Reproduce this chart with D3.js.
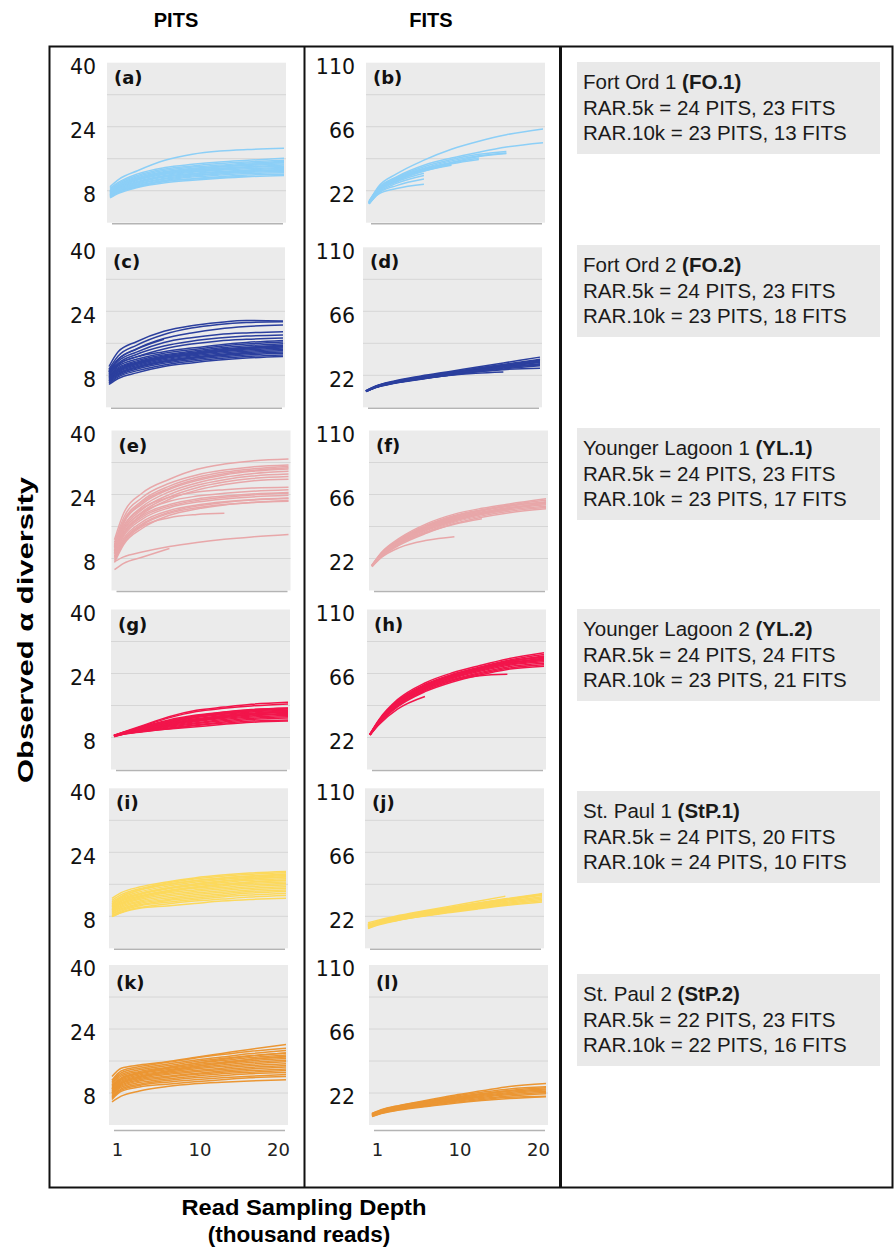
<!DOCTYPE html>
<html>
<head>
<meta charset="utf-8">
<script src="https://cdn.jsdelivr.net/npm/d3@7"></script>
<style>
  body { margin: 0; background: #fff; }
  svg { display: block; }
</style>
</head>
<body>
<div id="chart"></div>
<script>
// sampling depths (thousand reads) shared by every curve; shorter arrays stop early
const depths = [1, 2, 4, 7, 10, 13, 16, 20];
const depthTicks = [1, 10, 20];

const siteNames = ["Fort Ord 1", "Fort Ord 2", "Younger Lagoon 1", "Younger Lagoon 2", "St. Paul 1", "St. Paul 2"];
const siteCodes = ["FO.1", "FO.2", "YL.1", "YL.2", "StP.1", "StP.2"];
const rar5kPits = [24, 24, 24, 24, 24, 22];
const rar5kFits = [23, 23, 23, 24, 20, 23];
const rar10kPits = [23, 23, 23, 23, 24, 22];
const rar10kFits = [13, 18, 17, 21, 10, 16];

const pitsLetters = ["(a)", "(c)", "(e)", "(g)", "(i)", "(k)"];
const fitsLetters = ["(b)", "(d)", "(f)", "(h)", "(j)", "(l)"];
const pitsTicks = [40, 24, 8];
const fitsTicks = [110, 66, 22];
const pitsGrid = [32, 24, 16, 8];
const fitsGrid = [88, 66, 44, 22];

const pitsFO1 = [
  [9.0, 10.9, 13.0, 15.6, 17.1, 17.9, 18.3, 18.6],
  [8.6, 10.2, 12.2, 13.8, 14.6, 15.2, 15.6, 16.1],
  [8.3, 9.9, 11.8, 13.4, 14.2, 14.8, 15.2, 15.6],
  [8.0, 9.6, 11.5, 13.1, 13.9, 14.4, 14.9, 15.3],
  [7.9, 9.4, 11.2, 12.8, 13.6, 14.1, 14.6, 15.0],
  [7.7, 9.2, 11.0, 12.5, 13.3, 13.9, 14.3, 14.7],
  [7.5, 9.0, 10.8, 12.3, 13.1, 13.6, 14.0, 14.4],
  [7.4, 8.8, 10.6, 12.1, 12.8, 13.3, 13.8, 14.1],
  [7.2, 8.6, 10.3, 11.8, 12.6, 13.1, 13.5, 13.8],
  [7.1, 8.5, 10.1, 11.6, 12.3, 12.8, 13.2, 13.6],
  [6.9, 8.3, 9.9, 11.4, 12.1, 12.6, 13.0, 13.3],
  [6.8, 8.1, 9.7, 11.1, 11.9, 12.4, 12.8, 13.1],
  [6.7, 8.0, 9.5, 10.9, 11.7, 12.2, 12.6, 12.8],
  [6.5, 7.8, 9.2, 10.6, 11.4, 11.9, 12.3, 12.5],
  [6.4, 7.6, 9.0, 10.3, 11.0, 11.5, 11.9, 12.1],
  [6.2, 7.4, 8.8, 10.0, 10.6, 11.1, 11.5, 11.8],
  [7.6, 9.1, 10.9, 12.4, 13.0, 13.5, 13.9],
  [6.6, 7.9, 9.2, 10.4, 10.9, 11.3, 11.6],
  [7.0, 8.2, 9.4],
  [7.8, 9.3, 11.1, 12.6, 13.4, 14.0, 14.5, 15.2]
];
const fitsFO1 = [
  [14.0, 24.5, 33.5, 43.0, 50.5, 56.0, 60.5, 64.5],
  [14.5, 23.5, 31.5, 39.5, 44.5, 48.5, 52.0, 55.0],
  [15.0, 23.5, 31.0, 38.5, 43.5, 47.0, 49.0],
  [14.0, 23.0, 30.5, 37.5, 42.5, 46.0, 48.0],
  [13.5, 22.0, 29.5, 36.5, 41.0, 44.5],
  [14.0, 22.5, 30.0, 37.0, 41.5, 45.5, 47.5],
  [13.5, 21.5, 29.0, 35.5, 40.0],
  [14.0, 22.0, 29.5, 36.0, 40.5, 43.5],
  [13.0, 21.0, 28.0, 34.0],
  [13.5, 21.5, 28.5, 35.5, 39.5],
  [13.0, 20.5, 27.0, 32.5],
  [13.0, 19.5, 23.5, 26.5],
  [13.0, 20.0, 25.5, 30.0]
];

const pitsFO2 = [
  [10.2, 13.9, 16.4, 19.0, 20.4, 21.2, 21.7, 21.6],
  [9.5, 12.8, 15.5, 18.2, 19.8, 20.7, 21.2, 21.4],
  [9.0, 12.0, 14.6, 17.2, 18.6, 19.6, 20.2, 20.6],
  [8.8, 11.5, 13.8, 16.2, 17.4, 18.2, 18.6, 18.9],
  [9.2, 12.0, 14.5, 17.0],
  [8.5, 11.0, 13.2, 15.3, 16.5, 17.3, 17.8, 18.1],
  [8.2, 10.6, 12.6, 14.6, 15.8, 16.6, 17.0, 17.3],
  [8.8, 10.8, 12.6, 13.9, 14.8, 15.6, 16.2, 16.7],
  [8.4, 10.3, 12.0, 13.5, 14.4, 15.2, 15.8, 16.3],
  [8.0, 9.9, 11.6, 13.1, 14.0, 14.8, 15.4, 15.9],
  [7.8, 9.6, 11.3, 12.8, 13.7, 14.5, 15.0, 15.5],
  [7.5, 9.3, 11.0, 12.5, 13.4, 14.1, 14.7, 15.1],
  [7.2, 9.0, 10.7, 12.2, 13.1, 13.8, 14.3, 14.8],
  [7.0, 8.8, 10.4, 11.9, 12.8, 13.5, 14.0, 14.5],
  [6.8, 8.5, 10.1, 11.6, 12.5, 13.2, 13.7, 14.2],
  [6.5, 8.2, 9.8, 11.3, 12.2, 12.9, 13.4, 13.8],
  [6.2, 7.9, 9.5, 11.0, 11.9, 12.6, 13.1, 13.5],
  [6.0, 7.6, 9.1, 10.6, 11.5, 12.2, 12.7, 13.1],
  [5.7, 7.2, 8.6, 10.2, 11.1, 11.8, 12.3, 12.7],
  [7.6, 9.4, 11.1, 12.6, 13.5, 14.3, 14.9, 15.4],
  [6.6, 8.4, 10.0, 11.5, 12.4, 13.0, 13.6],
  [7.3, 9.1, 10.8, 12.3, 13.2, 14.0, 14.6, 15.2]
];
const fitsFO2 = [
  [11.5, 14.5, 18.0, 21.5, 24.5, 27.5, 30.5, 34.5],
  [11.2, 14.2, 17.6, 21.0, 24.0, 26.8, 29.5, 33.0],
  [11.0, 14.0, 17.2, 20.6, 23.4, 26.0, 28.6, 31.8],
  [11.3, 14.1, 17.4, 20.8, 23.6, 26.3, 29.0, 32.3],
  [11.0, 13.8, 17.0, 20.2, 22.9, 25.4, 27.8, 30.8],
  [10.8, 13.6, 16.8, 19.9, 22.5, 24.8, 27.0, 29.6],
  [11.1, 13.9, 17.1, 20.4, 23.1, 25.6, 28.1, 31.2],
  [10.9, 13.5, 16.5, 19.5, 22.0, 24.3, 26.4, 28.5],
  [11.0, 13.7, 16.7, 19.7, 22.2, 24.4, 25.9, 26.8],
  [11.2, 14.0, 17.3, 20.5, 23.2, 25.5, 27.2],
  [10.8, 13.4, 16.4, 19.3, 21.8, 23.4, 24.3],
  [11.1, 13.9, 17.0, 20.1, 22.7, 25.0],
  [11.0, 13.6, 16.6, 19.6, 22.1],
  [11.3, 14.2, 17.5, 20.9, 23.8, 26.5, 29.2, 32.0],
  [10.9, 13.7, 16.9, 20.0, 22.6, 25.1, 27.5, 30.0],
  [11.1, 14.0, 17.2, 20.3, 23.0, 25.3, 27.6, 29.0]
];

const pitsYL1 = [
  [12.7, 19.3, 24.3, 27.8, 30.3, 31.6, 32.4, 32.9],
  [12.0, 18.2, 23.2, 26.8, 28.9, 30.1, 30.9, 31.4],
  [11.5, 17.4, 22.4, 26.1, 28.3, 29.6, 30.4, 31.0],
  [11.0, 16.8, 21.6, 25.3, 27.5, 28.9, 29.8, 30.4],
  [10.6, 16.1, 20.9, 24.7, 26.9, 28.3, 29.2, 29.8],
  [10.2, 15.5, 20.2, 24.0, 26.3, 27.7, 28.6, 29.1],
  [9.8, 15.0, 19.6, 23.4, 25.7, 27.1, 28.0, 28.5],
  [9.4, 14.4, 19.0, 22.8, 25.1, 26.5, 27.4, 27.8],
  [11.2, 17.0, 22.0, 25.6, 27.8, 29.2, 30.0, 30.7],
  [10.8, 16.0, 20.5, 23.3, 24.6, 25.2, 25.6, 25.8],
  [10.0, 15.0, 19.4, 22.3, 23.6, 24.3, 24.8, 25.2],
  [9.5, 14.3, 18.7, 21.5, 22.9, 23.6, 24.1, 24.5],
  [9.0, 13.6, 17.8, 20.7, 22.1, 22.9, 23.4, 23.8],
  [8.6, 13.0, 17.1, 20.0, 21.4, 22.2, 22.7, 23.1],
  [8.0, 12.3, 16.3, 19.3, 20.7, 21.5, 22.0, 22.3],
  [8.3, 12.6, 16.6, 19.6, 21.1, 22.0, 22.6, 23.0],
  [7.5, 11.9, 16.0, 18.2, 19.0, 19.3],
  [7.0, 11.5, 15.5, 18.8, 20.4, 21.4, 22.0, 22.5],
  [9.2, 14.0, 18.3, 21.1, 22.5, 23.3, 23.9, 24.3],
  [7.2, 8.4, 9.6, 11.0, 12.0, 12.8, 13.4, 14.0],
  [5.2, 6.8, 8.3, 10.5]
];
const fitsYL1 = [
  [17.5, 26.0, 36.0, 46.0, 52.5, 56.5, 59.5, 63.0],
  [17.2, 25.5, 35.2, 45.0, 51.5, 55.5, 58.8, 62.0],
  [17.0, 25.0, 34.5, 44.0, 50.5, 54.8, 58.0, 61.0],
  [17.3, 25.2, 34.8, 44.5, 51.0, 55.2, 58.3, 60.5],
  [16.8, 24.5, 33.8, 43.0, 49.5, 53.8, 57.0, 59.8],
  [17.0, 24.2, 33.2, 42.2, 48.7, 53.0, 56.3, 59.0],
  [16.6, 23.8, 32.5, 41.3, 47.8, 52.2, 55.5, 58.0],
  [16.8, 23.5, 32.0, 40.5, 47.0, 51.3, 54.5, 57.0],
  [16.5, 23.0, 31.2, 39.5, 46.0, 50.3, 53.5, 56.2],
  [17.1, 24.8, 34.0, 43.5, 50.0, 54.0, 56.5],
  [16.7, 23.6, 32.0, 40.0, 45.5, 49.3],
  [16.4, 22.5, 29.5, 34.5, 37.0],
  [16.9, 24.0, 33.0, 42.0, 48.0, 52.5, 55.5],
  [17.0, 24.6, 33.6, 42.8, 49.2, 53.5, 56.8, 60.0]
];

const pitsYL2 = [
  [8.5, 9.3, 10.9, 13.2, 14.8, 15.6, 16.3, 16.8],
  [8.4, 9.2, 10.7, 12.9, 14.5, 15.3, 15.9, 16.4],
  [8.6, 9.3, 10.6, 12.4, 13.6, 14.4, 15.0, 15.4],
  [8.5, 9.2, 10.4, 12.1, 13.3, 14.1, 14.7, 15.1],
  [8.4, 9.1, 10.2, 11.8, 13.0, 13.8, 14.4, 14.8],
  [8.5, 9.1, 10.1, 11.6, 12.7, 13.5, 14.1, 14.6],
  [8.3, 9.0, 10.0, 11.4, 12.5, 13.3, 13.9, 14.3],
  [8.4, 9.0, 9.9, 11.2, 12.2, 13.0, 13.6, 14.0],
  [8.5, 9.0, 9.8, 11.0, 12.0, 12.8, 13.4, 13.8],
  [8.3, 8.9, 9.7, 10.8, 11.7, 12.5, 13.1, 13.5],
  [8.4, 8.9, 9.6, 10.6, 11.5, 12.2, 12.8, 13.2],
  [8.2, 8.8, 9.5, 10.4, 11.2, 11.9, 12.5, 12.9],
  [8.3, 8.8, 9.4, 10.2, 11.0, 11.6, 12.1, 12.4],
  [8.4, 8.9, 9.5, 10.1, 10.7, 11.3, 11.8, 12.1],
  [8.5, 9.0, 9.9, 11.3, 12.4, 13.2, 13.8, 14.5],
  [8.3, 9.0, 10.0, 11.5, 12.6, 13.4, 14.0, 14.7],
  [8.4, 9.1, 10.3, 11.9, 13.1, 13.9, 14.6, 15.2],
  [8.5, 9.2, 10.5, 12.2, 13.4, 14.3, 14.9, 15.3]
];
const fitsYL2 = [
  [24.5, 34.5, 48.0, 59.5, 66.5, 71.5, 76.0, 80.2],
  [24.2, 34.0, 47.2, 58.5, 65.5, 70.5, 75.0, 79.0],
  [24.0, 33.5, 46.5, 57.8, 64.8, 69.8, 74.0, 78.0],
  [24.3, 33.8, 46.8, 58.0, 65.0, 70.0, 74.5, 77.0],
  [23.8, 33.0, 45.8, 57.0, 64.0, 69.0, 73.2, 76.5],
  [24.1, 33.2, 46.0, 57.2, 64.2, 69.2, 73.0, 75.5],
  [23.9, 32.8, 45.2, 56.3, 63.2, 68.2, 72.2, 75.0],
  [24.0, 32.5, 44.8, 55.8, 62.6, 67.5, 71.5, 74.0],
  [23.7, 32.2, 44.2, 55.0, 61.8, 66.6, 70.5, 73.0],
  [23.9, 32.0, 43.6, 54.2, 61.0, 65.8, 69.6, 72.0],
  [23.6, 31.6, 43.0, 53.5, 60.2, 65.0, 68.8, 71.0],
  [24.2, 33.6, 46.4, 57.5, 64.5, 69.5, 73.8, 77.5],
  [23.8, 31.0, 41.5, 50.2],
  [23.9, 32.4, 44.5, 55.2, 61.5, 64.5, 65.5],
  [24.0, 33.0, 45.5, 56.8, 63.8, 68.8, 72.8, 76.0]
];

const pitsStP1 = [
  [12.5, 13.9, 15.3, 16.6, 17.6, 18.3, 18.8, 19.2],
  [12.0, 13.4, 14.9, 16.3, 17.3, 18.0, 18.5, 18.9],
  [11.6, 13.0, 14.5, 15.9, 16.9, 17.6, 18.1, 18.6],
  [11.2, 12.6, 14.1, 15.5, 16.5, 17.2, 17.7, 18.2],
  [10.9, 12.3, 13.7, 15.1, 16.1, 16.8, 17.3, 17.8],
  [10.6, 12.0, 13.4, 14.8, 15.7, 16.4, 17.0, 17.4],
  [10.3, 11.7, 13.1, 14.4, 15.3, 16.0, 16.6, 17.0],
  [10.0, 11.4, 12.8, 14.1, 15.0, 15.6, 16.2, 16.6],
  [9.8, 11.1, 12.5, 13.8, 14.6, 15.2, 15.8, 16.2],
  [9.5, 10.8, 12.2, 13.4, 14.2, 14.8, 15.4, 15.8],
  [9.2, 10.5, 11.8, 13.0, 13.8, 14.4, 15.0, 15.4],
  [9.0, 10.2, 11.5, 12.6, 13.4, 14.0, 14.6, 15.0],
  [8.7, 9.9, 11.2, 12.2, 13.0, 13.6, 14.2, 14.6],
  [8.5, 9.6, 10.9, 11.9, 12.6, 13.2, 13.8, 14.2],
  [8.2, 9.3, 10.6, 11.5, 12.2, 12.8, 13.3, 13.7],
  [7.9, 9.0, 10.2, 11.1, 11.8, 12.3, 12.8, 13.2],
  [8.0, 8.9, 10.0, 10.6, 11.2, 11.8, 12.2, 12.5],
  [11.0, 12.8, 14.6, 16.0, 16.9, 17.5, 18.0, 18.4],
  [9.6, 11.2, 12.9, 14.3, 15.2, 15.9, 16.5, 17.0],
  [10.4, 11.9, 13.6, 15.0, 16.0, 16.7, 17.4, 17.9]
];
const fitsStP1 = [
  [16.5, 18.5, 21.5, 25.0, 28.2, 31.2, 34.0, 37.6],
  [16.0, 18.0, 21.0, 24.5, 27.6, 30.6, 33.4, 37.0],
  [15.8, 17.8, 20.7, 24.1, 27.2, 30.2, 33.0, 36.5],
  [17.5, 19.2, 22.0, 25.6, 29.0, 32.3, 35.8],
  [15.5, 17.5, 20.3, 23.6, 26.6, 29.5, 32.2, 35.5],
  [15.2, 17.2, 20.0, 23.2, 26.1, 28.9, 31.5, 34.6],
  [15.0, 17.0, 19.7, 22.8, 25.6, 28.3, 30.8, 33.6],
  [14.8, 16.7, 19.4, 22.4, 25.1, 27.7, 30.1, 32.7],
  [14.5, 16.4, 19.0, 22.0, 24.6, 27.1, 29.4, 31.8],
  [13.5, 15.8, 18.8, 22.2, 25.2, 28.0, 30.5],
  [16.2, 18.2, 21.2, 24.8, 27.9, 30.9, 33.7, 37.0],
  [15.6, 17.6, 20.5, 23.8, 26.8, 29.7, 32.5],
  [14.0, 16.2, 19.2, 22.6, 25.5]
];

const pitsStP2 = [
  [12.1, 14.2, 15.0, 15.8, 16.9, 17.9, 18.9, 20.1],
  [11.2, 13.5, 14.6, 15.6, 16.7, 17.6, 18.4, 19.2],
  [10.8, 13.0, 14.2, 15.2, 16.2, 17.0, 17.8, 18.6],
  [10.4, 12.6, 13.8, 14.8, 15.8, 16.6, 17.3, 18.0],
  [10.0, 12.2, 13.4, 14.4, 15.4, 16.1, 16.8, 17.5],
  [9.7, 11.8, 13.1, 14.1, 15.0, 15.7, 16.4, 17.0],
  [9.4, 11.5, 12.8, 13.8, 14.7, 15.4, 16.0, 16.6],
  [9.1, 11.2, 12.5, 13.5, 14.3, 15.0, 15.6, 16.2],
  [8.8, 10.9, 12.2, 13.2, 14.0, 14.6, 15.2, 15.8],
  [8.5, 10.6, 11.9, 12.9, 13.6, 14.2, 14.8, 15.3],
  [8.2, 10.3, 11.6, 12.6, 13.3, 13.9, 14.4, 14.9],
  [7.9, 10.0, 11.3, 12.2, 12.9, 13.5, 14.0, 14.5],
  [7.6, 9.7, 11.0, 11.9, 12.6, 13.2, 13.6, 14.0],
  [7.3, 9.4, 10.6, 11.5, 12.2, 12.8, 13.2, 13.6],
  [7.0, 9.0, 10.2, 11.1, 11.8, 12.3, 12.8, 13.1],
  [6.7, 8.7, 9.9, 10.7, 11.3, 11.8, 12.2, 12.6],
  [6.4, 8.4, 9.5, 10.2, 10.8, 11.3, 11.8, 12.1],
  [5.8, 7.2, 8.5, 9.6, 10.3, 10.7, 11.0, 11.3],
  [8.0, 10.4, 12.0, 13.4, 14.6, 15.5, 16.4, 17.2],
  [9.0, 11.6, 13.0, 14.3, 15.4, 16.4, 17.2, 18.0]
];
const fitsStP2 = [
  [8.0, 10.5, 13.5, 17.0, 20.5, 23.5, 26.5, 28.5],
  [7.8, 10.2, 13.2, 16.5, 19.8, 22.5, 24.8, 26.3],
  [7.5, 9.9, 12.8, 16.0, 19.0, 21.6, 23.8, 25.6],
  [7.2, 9.6, 12.5, 15.6, 18.5, 21.0, 23.2, 24.8],
  [7.0, 9.3, 12.1, 15.1, 17.9, 20.3, 22.4, 24.0],
  [6.8, 9.0, 11.8, 14.7, 17.4, 19.7, 21.7, 23.2],
  [6.5, 8.7, 11.4, 14.2, 16.8, 19.0, 20.9, 22.4],
  [6.2, 8.4, 11.0, 13.7, 16.2, 18.2, 20.0, 21.5],
  [6.0, 8.1, 10.6, 13.2, 15.6, 17.5, 19.0, 19.8],
  [5.8, 7.9, 10.3, 12.8, 15.0, 16.8, 18.2, 19.5],
  [7.4, 9.8, 12.6, 15.8, 18.8, 21.4, 23.6],
  [6.6, 8.9, 11.6, 14.4, 17.1, 19.4],
  [7.1, 9.4, 12.3, 15.3, 17.6]
];

const pitsCurves = [pitsFO1, pitsFO2, pitsYL1, pitsYL2, pitsStP1, pitsStP2];
const fitsCurves = [fitsFO1, fitsFO2, fitsYL1, fitsYL2, fitsStP1, fitsStP2];

// styling / layout
const siteColors = ["#8ccff7", "#2b3f9e", "#e8a7a9", "#f2154b", "#fcd95c", "#eb9633"];
const rowTop = [62.7, 247.3, 430.5, 609.5, 788.3, 965];
const pitsLeft = [107, 106, 111.5, 111, 109, 109];
const fitsLeft = [366, 363, 369, 367, 365, 369];
const boxTop = [62, 245, 428, 609, 791, 974];
const panelW = 179, panelH = 160;
const numFont = "'DejaVu Sans', Verdana, sans-serif";

const svg = d3.select("#chart").append("svg")
    .attr("width", 895)
    .attr("height", 1249)
    .style("font-family", "'Liberation Sans', Arial, sans-serif");

function drawPanel(left, top, yMax, grid, ticks, labelRight, curves, color, letter, last) {
    const g = svg.append("g");
    const x = d3.scaleLinear().domain([1, 20]).range([left + 3, left + panelW - 2]);
    const y = d3.scaleLinear().domain([0, yMax]).range([top + panelH, top]);

    g.append("rect")
        .attr("x", left).attr("y", top)
        .attr("width", panelW).attr("height", panelH)
        .attr("fill", "#ebebeb");

    g.selectAll("line.grid")
        .data(grid)
        .join("line")
        .attr("class", "grid")
        .attr("x1", left).attr("x2", left + panelW)
        .attr("y1", d => y(d)).attr("y2", d => y(d))
        .attr("stroke", "#d6d6d6")
        .attr("stroke-width", 1);

    const baseY = last ? top + panelH + 5.5 : top + panelH + 1;
    g.append("line")
        .attr("x1", left + 5).attr("x2", left + panelW - 3)
        .attr("y1", baseY).attr("y2", baseY)
        .attr("stroke", "#b4b4b4")
        .attr("stroke-width", 1.5);

    const line = d3.line()
        .x((v, i) => x(depths[i]))
        .y(v => y(v))
        .curve(d3.curveMonotoneX);

    g.append("g")
        .attr("fill", "none")
        .attr("stroke", color)
        .attr("stroke-width", 1.5)
        .attr("stroke-linejoin", "round")
        .selectAll("path")
        .data(curves)
        .join("path")
        .attr("d", line);

    g.append("text")
        .attr("x", left + 7)
        .attr("y", top + (last ? 24 : 21))
        .attr("font-family", numFont)
        .attr("font-weight", "bold")
        .attr("font-size", 18)
        .attr("fill", "#111")
        .text(letter);

    const ay = g.append("g")
        .attr("transform", `translate(${labelRight},0)`)
        .call(d3.axisLeft(y).tickValues(ticks).tickSize(0).tickPadding(0));
    ay.select(".domain").remove();
    ay.selectAll("text")
        .attr("font-family", numFont)
        .attr("font-size", 20.5)
        .attr("fill", "#111")
        .attr("dy", "0.53em");

    if (last) {
        const tickShift = [5, 5, -8];
        const ax = g.append("g")
            .attr("transform", `translate(0,${top + panelH + 20})`)
            .call(d3.axisBottom(x).tickValues(depthTicks).tickSize(0).tickPadding(0));
        ax.select(".domain").remove();
        ax.selectAll("text")
            .attr("font-family", numFont)
            .attr("font-size", 18)
            .attr("fill", "#222")
            .attr("dy", "0.6em")
            .attr("dx", (d, i) => tickShift[i]);
    }
}

for (let r = 0; r < 6; r++) {
    const last = r === 5;
    drawPanel(pitsLeft[r], rowTop[r], 40, pitsGrid, pitsTicks, 96, pitsCurves[r], siteColors[r], pitsLetters[r], last);
    drawPanel(fitsLeft[r], rowTop[r], 110, fitsGrid, fitsTicks, 355, fitsCurves[r], siteColors[r], fitsLetters[r], last);

    // site summary box
    const bx = 577, by = boxTop[r];
    svg.append("rect")
        .attr("x", bx).attr("y", by)
        .attr("width", 303).attr("height", 92)
        .attr("fill", "#e9e9e9");
    const t = svg.append("g").attr("font-size", 20.5).attr("fill", "#1a1a1a");
    const l1 = t.append("text").attr("x", bx + 6).attr("y", by + 27);
    l1.append("tspan").text(siteNames[r] + " ");
    l1.append("tspan").attr("font-weight", "bold").text("(" + siteCodes[r] + ")");
    t.append("text").attr("x", bx + 6).attr("y", by + 52.5)
        .text(`RAR.5k = ${rar5kPits[r]} PITS, ${rar5kFits[r]} FITS`);
    t.append("text").attr("x", bx + 6).attr("y", by + 77.5)
        .text(`RAR.10k = ${rar10kPits[r]} PITS, ${rar10kFits[r]} FITS`);
}

// frame
const frame = svg.append("g").attr("stroke", "#111").attr("fill", "none");
frame.append("rect")
    .attr("x", 49.5).attr("y", 46.5)
    .attr("width", 843).attr("height", 1141)
    .attr("stroke-width", 2);
frame.append("line")
    .attr("x1", 304.5).attr("x2", 304.5).attr("y1", 46).attr("y2", 1188)
    .attr("stroke-width", 2);
frame.append("line")
    .attr("x1", 560.5).attr("x2", 560.5).attr("y1", 46).attr("y2", 1188)
    .attr("stroke-width", 3);

// headers and axis titles
svg.append("text")
    .attr("x", 176).attr("y", 27)
    .attr("text-anchor", "middle")
    .attr("font-weight", "bold").attr("font-size", 20)
    .text("PITS");
svg.append("text")
    .attr("x", 431).attr("y", 27)
    .attr("text-anchor", "middle")
    .attr("font-weight", "bold").attr("font-size", 20)
    .text("FITS");

svg.append("text")
    .attr("transform", "translate(33,630) rotate(-90)")
    .attr("text-anchor", "middle")
    .attr("font-weight", "bold").attr("font-size", 22)
    .attr("textLength", 306)
    .attr("lengthAdjust", "spacingAndGlyphs")
    .text("Observed α diversity");

svg.append("text")
    .attr("x", 304).attr("y", 1215)
    .attr("text-anchor", "middle")
    .attr("font-weight", "bold").attr("font-size", 22.5)
    .attr("textLength", 245)
    .attr("lengthAdjust", "spacingAndGlyphs")
    .text("Read Sampling Depth");
svg.append("text")
    .attr("x", 299).attr("y", 1242)
    .attr("text-anchor", "middle")
    .attr("font-weight", "bold").attr("font-size", 22.5)
    .text("(thousand reads)");
</script>
</body>
</html>
